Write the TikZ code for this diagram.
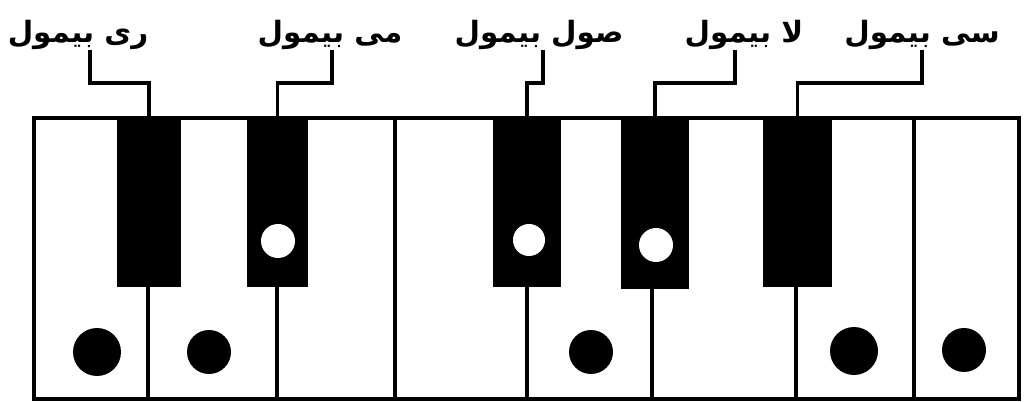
\documentclass[tikz,border=0pt]{standalone}
\usepackage{fontspec}
\newfontfamily\arabicfont[Script=Arabic]{DejaVu Sans}
\TeXXeTstate=1
\begin{document}
\begin{tikzpicture}[x=0.75pt, y=-0.75pt,
        lbl/.style={font=\arabicfont\bfseries\fontsize{22}{26}\selectfont, inner sep=0pt, anchor=south},
        blackkey/.style={rectangle, fill=black, anchor=north, inner sep=0pt, minimum height=126.75pt},
        leader/.style={line width=2.6pt},
        keyline/.style={line width=2.4pt}
      ]
        \useasboundingbox (0,0) rectangle (1024,402);
        % white keys
        \draw[keyline] (34,118) rectangle (1019,399);
        \foreach \x in {148,277,395,527,652,796,914}
          \draw[keyline] (\x,118) -- (\x,399);
        % black keys
        \node[blackkey, minimum width=48pt] (bre) at (149,118) {};
        \node[blackkey, minimum width=45.75pt] (bmi) at (277.5,118) {};
        \node[blackkey, minimum width=51pt] (bsol) at (527,118) {};
        \node[blackkey, minimum width=51pt, minimum height=128.25pt] (bla) at (655,118) {};
        \node[blackkey, minimum width=51.75pt] (bsi) at (797.5,118) {};
        % dots
        \foreach \x/\y/\r in {97/352/24, 209/352/22, 591/352/22, 854/351/24, 964/350/22}
          \fill (\x,\y) circle[radius=\r];
        \foreach \x/\y/\r in {278/241/17, 529/240/16, 656/245/17}
          \fill[white] (\x,\y) circle[radius=\r];
        % labels
        \node[lbl] (re) at (78,50) {\beginR ری بیمول\endR};
        \node[lbl] (mi) at (330,50) {\beginR می بیمول\endR};
        \node[lbl] (sol) at (539,50) {\beginR صول بیمول\endR};
        \node[lbl] (la) at (744,50) {\beginR لا بیمول\endR};
        \node[lbl] (si) at (922,50) {\beginR سی بیمول\endR};
        \draw[leader] ([xshift=9pt]re.south) -- ++(0,33) -| (bre.north);
        \draw[leader] ([xshift=1.5pt]mi.south) -- ++(0,33) -| (bmi.north);
        \draw[leader] ([xshift=3pt]sol.south) -- ++(0,33) -| (bsol.north);
        \draw[leader] ([xshift=-6.75pt]la.south) -- ++(0,33) -| (bla.north);
        \draw[leader] (si.south) -- ++(0,33) -| (bsi.north);
      \end{tikzpicture}
\end{document}
